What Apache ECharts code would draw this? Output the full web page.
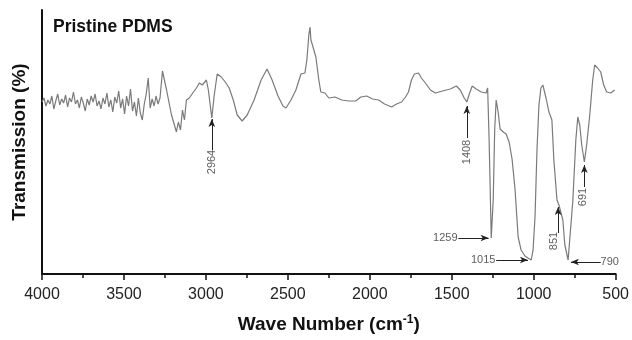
<!DOCTYPE html>
<html>
<head>
<meta charset="utf-8">
<script src="https://cdn.jsdelivr.net/npm/echarts@6/dist/echarts.min.js"></script>
<style>
  html, body { margin: 0; padding: 0; background: #fff; }
  #chart { width: 632px; height: 340px; }
</style>
</head>
<body>
<div id="chart"></div>
<script>
// wave numbers (cm-1)
const waveNumbers = [
  4000, 3988, 3976, 3964, 3952, 3940, 3928, 3916, 3904, 3892, 3880, 3868, 3856, 3844, 3832, 3820,
  3808, 3796, 3784, 3772, 3760, 3748, 3736, 3724, 3712, 3700, 3688, 3676, 3664, 3652, 3640, 3628,
  3616, 3604, 3592, 3580, 3568, 3556, 3544, 3532, 3520, 3508, 3496, 3484, 3472, 3460, 3448, 3436,
  3424, 3412, 3400, 3388, 3376, 3364, 3352, 3340, 3328, 3316, 3304, 3292, 3280,
  3265, 3240, 3210, 3192, 3180, 3168, 3155, 3143, 3131, 3119, 3101, 3076, 3058, 3040, 3022, 2997,
  2985, 2964, 2949, 2931, 2906, 2882, 2858, 2833, 2809, 2779, 2748, 2706, 2663, 2627, 2596, 2560,
  2530, 2511, 2481, 2451, 2420, 2396, 2384, 2372, 2365, 2359, 2347, 2329, 2311, 2299, 2274, 2250,
  2213, 2171, 2128, 2086, 2055, 2019, 1983, 1946, 1910, 1867, 1837, 1806, 1782, 1764, 1746, 1728,
  1703, 1685, 1661, 1630, 1600, 1557, 1509, 1472, 1448, 1424, 1408, 1393, 1375, 1351, 1320, 1290,
  1281, 1272, 1259, 1247, 1238, 1229, 1217, 1205, 1186, 1168, 1150, 1132, 1114, 1095, 1077, 1053,
  1035, 1015, 1004, 992, 980, 968, 956, 944, 925, 907, 889, 877, 858, 846, 834, 822,
  810, 790, 780, 761, 743, 731, 719, 707, 691, 677, 658, 640, 628, 610, 591, 573,
  555, 530, 506
];

// transmission, arbitrary units (axis has no scale)
const transmission = [
  172, 176, 168, 174, 170, 178, 165, 173, 180, 169, 175, 171, 179, 167, 176, 172,
  182, 170, 174, 166, 177, 171, 163, 175, 169, 178, 172, 180, 168, 173, 165, 176,
  170, 181, 167, 174, 162, 177, 171, 183, 166, 175, 160, 178, 168, 185, 163, 172,
  158, 176, 161, 154, 170, 180, 196, 166, 175, 168, 178, 170, 176,
  203, 184, 159, 149, 142, 152, 144, 164, 154, 174, 176, 182, 186, 191, 189, 194,
  184, 156, 179, 200, 197, 192, 186, 174, 159, 153, 159, 174, 194, 205, 194, 178,
  168, 166, 174, 184, 200, 201, 214, 239, 247, 234, 234, 217, 194, 182, 181, 176,
  177, 174, 173, 173, 177, 178, 175, 174, 170, 167, 170, 172, 177, 182, 194, 200,
  201, 196, 191, 184, 181, 183, 185, 188, 184, 176, 172, 180, 188, 185, 182, 181,
  186, 134, 36, 74, 144, 174, 162, 145, 142, 140, 132, 115, 85, 37, 24, 18,
  16, 14, 24, 57, 124, 169, 186, 189, 176, 162, 154, 114, 74, 69, 71, 54,
  29, 14, 16, 74, 134, 157, 149, 129, 112, 129, 159, 194, 209, 206, 202, 189,
  182, 181, 184
];

const xTicks = [4000, 3500, 3000, 2500, 2000, 1500, 1000, 500];

// peak annotations: arrow tail, arrow tip, label centre, label rotation
const peakNames = ['2964', '1408', '1259', '1015', '851', '790', '691'];
const arrowFrom = [[2964, 124], [1408, 136], [1460, 36], [1229, 14], [851, 41], [591, 12], [691, 87]];
const arrowTo = [[2964, 155], [1408, 168], [1275, 36], [1035, 14], [851, 67], [773, 12], [691, 109]];
const labelAt = [[2964, 112], [1408, 122], [1539, 36], [1308, 14], [877, 33], [536, 12], [700, 77]];
const labelRotate = [90, 90, 0, 0, 90, 0, 90];

const spectrum = waveNumbers.map((w, i) => [w, transmission[i]]);

const chart = echarts.init(document.getElementById('chart'), null, { renderer: 'canvas' });

const font = '"Liberation Sans", Arial, sans-serif';

chart.setOption({
  animation: false,
  title: {
    text: 'Pristine PDMS',
    left: 48,
    top: 13,
    textStyle: { fontFamily: font, fontSize: 17.5, fontWeight: 'bold', color: '#111' }
  },
  grid: { left: 42, right: 14, top: 10, bottom: 66 },
  xAxis: {
    type: 'value',
    inverse: true,
    min: 500,
    max: 4000,
    interval: 500,
    name: 'Wave Number (cm{sup|-1})',
    nameLocation: 'middle',
    nameGap: 40,
    nameTextStyle: {
      fontFamily: font, fontSize: 19, fontWeight: 'bold', color: '#111',
      rich: {
        sup: { fontFamily: font, fontSize: 12, fontWeight: 'bold', color: '#111', padding: [0, 0, 9, 0] }
      }
    },
    axisLine: { show: true, onZero: false, lineStyle: { color: '#111', width: 2 } },
    axisTick: { show: true, inside: false, length: 6, lineStyle: { color: '#111', width: 1.5 } },
    minorTick: { show: true, splitNumber: 2, length: 4, lineStyle: { color: '#111', width: 1.5 } },
    splitLine: { show: false },
    axisLabel: {
      margin: 13,
      fontFamily: font, fontSize: 16, color: '#222',
      formatter: v => (xTicks.includes(v) ? String(v) : '')
    }
  },
  yAxis: {
    type: 'value',
    min: 0,
    max: 264,
    name: 'Transmission (%)',
    nameLocation: 'middle',
    nameGap: 13,
    nameRotate: 90,
    nameTextStyle: { fontFamily: font, fontSize: 19, fontWeight: 'bold', color: '#111' },
    axisLine: { show: true, lineStyle: { color: '#111', width: 2 } },
    axisTick: { show: false },
    axisLabel: { show: false },
    splitLine: { show: false }
  },
  series: [
    {
      name: 'Pristine PDMS',
      type: 'line',
      data: spectrum,
      showSymbol: false,
      symbol: 'none',
      lineStyle: { color: '#7a7a7a', width: 1.2 },
      markLine: {
        silent: true,
        symbol: ['none', 'arrow'],
        symbolSize: [5, 8],
        label: { show: false },
        lineStyle: { color: '#222', width: 1, type: 'solid' },
        data: arrowFrom.map((p, i) => [{ coord: p }, { coord: arrowTo[i] }])
      }
    },
    {
      name: 'labels',
      type: 'scatter',
      symbolSize: 1,
      itemStyle: { color: 'rgba(0,0,0,0)' },
      silent: true,
      data: peakNames.map((n, i) => ({
        name: n,
        value: labelAt[i],
        label: {
          show: true,
          position: 'inside',
          rotate: labelRotate[i],
          formatter: '{b}',
          fontFamily: font,
          fontSize: 11,
          color: '#333'
        }
      }))
    }
  ]
});
</script>
</body>
</html>
